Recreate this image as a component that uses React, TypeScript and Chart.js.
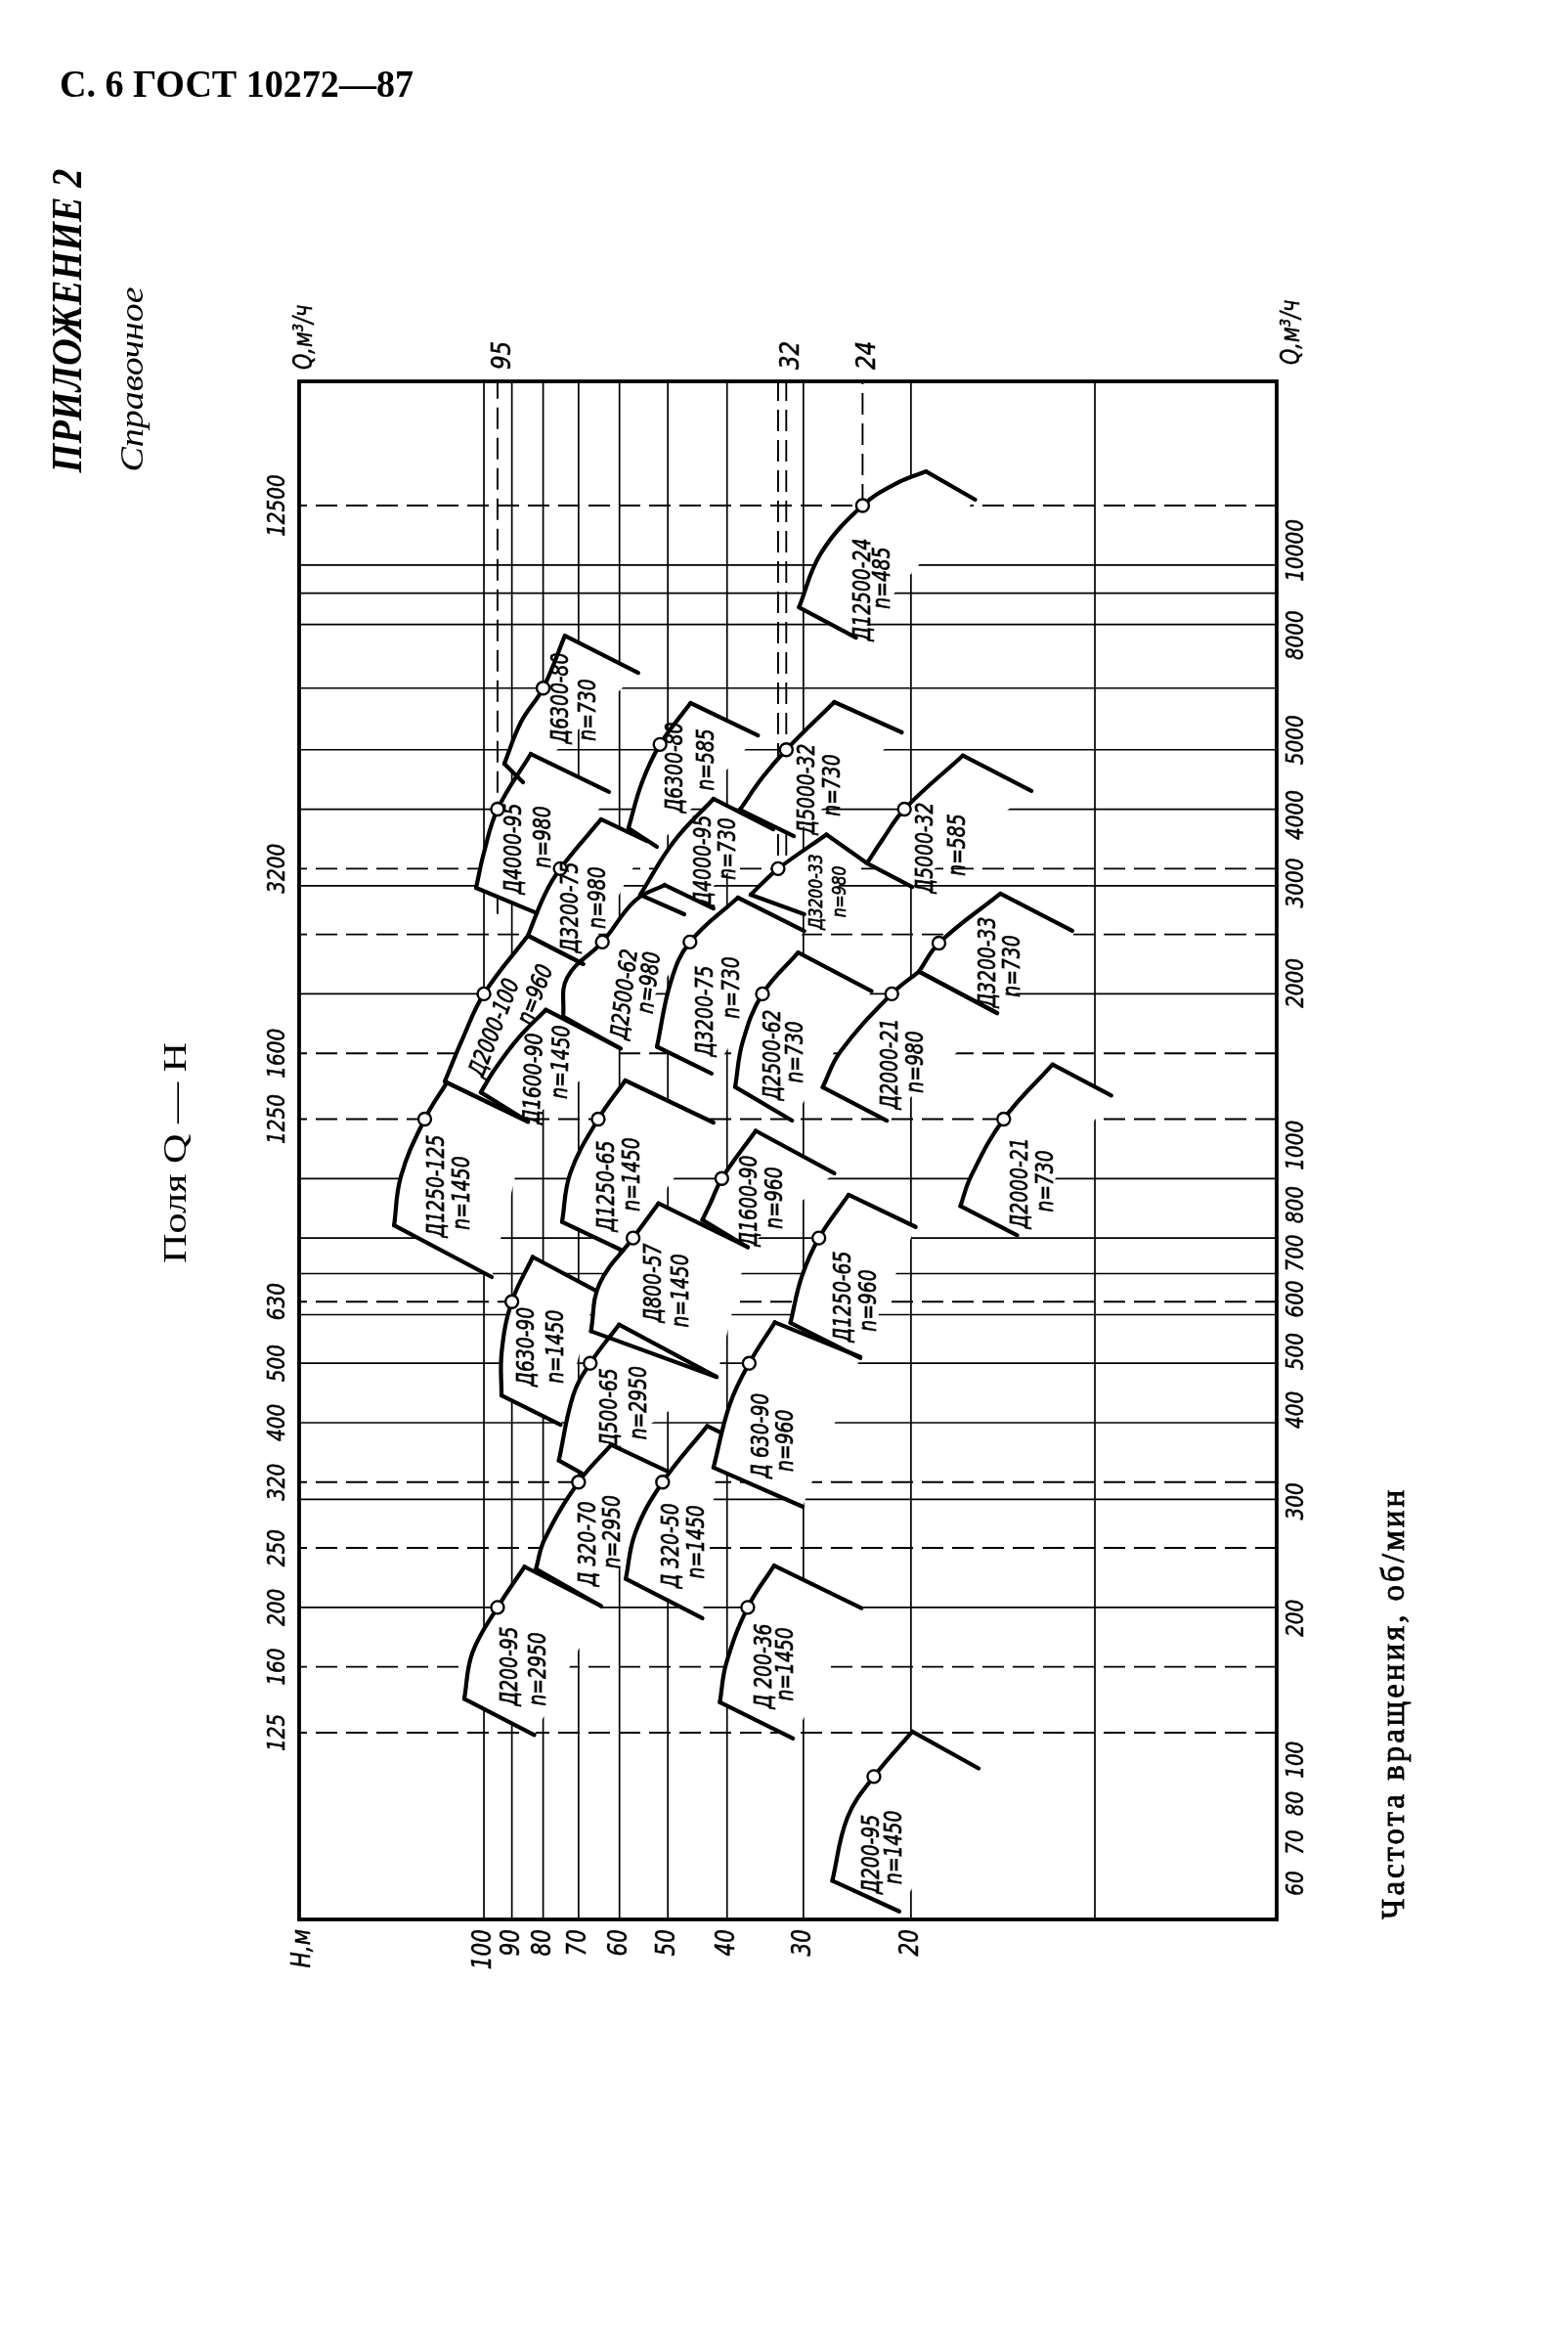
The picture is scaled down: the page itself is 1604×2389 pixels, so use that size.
import React, { useEffect, useRef } from "react";
import { Chart, registerables } from "chart.js";

Chart.register(...registerables);

type P = [number, number]; // [H (m), Q (m3/h)]

// ---------- axes ----------
const H_RANGE: P = [5.04, 200.66];
const Q_RANGE: P = [62.0, 19925];

// ---------- grid ----------
const H_GRID_SOLID = [100, 90, 80, 70, 60, 50, 40, 30, 20, 10];
const H_GRID_DASHED = [95, 33, 32, 24];
const H_GRID_DASHED_END_Q = [2700, 3000, 3000, 12500];
const Q_GRID_SOLID = [10000, 9000, 8000, 6300, 5000, 4000, 3000, 2000, 1000, 800, 700, 600, 500, 400, 300, 200];
const Q_GRID_DASHED = [12500, 3200, 2500, 1600, 1250, 630, 320, 250, 160, 125];

// ---------- tick labels ----------
const Q_LEFT_TICKS = [12500, 3200, 1600, 1250, 630, 500, 400, 320, 250, 200, 160, 125];
const Q_RIGHT_TICKS = [10000, 8000, 5000, 4000, 3000, 2000, 1000, 800, 700, 600, 500, 400, 300, 200, 100, 80, 70, 60];
const H_BOTTOM_TICKS = [100, 90, 80, 70, 60, 50, 40, 30, 20];
const H_TOP_TICKS = [95, 32, 24];
// hand-lettered right scale: label shift (px) from the tick position, as in the drawing
const Q_RIGHT_LABEL_SHIFT = [-15, 11, -10, 6, -3, -11, -34, -34, -21, -16, -12, -13, 2, 11, -33, -49, -46, -46];

// ---------- pump fields ----------
const PUMP_NAMES = [
  "Д12500-24", "Д6300-80", "Д4000-95", "Д6300-80", "Д5000-32", "Д5000-32",
  "Д3200-75", "Д4000-95", "Д3200-33", "Д2000-100", "Д2500-62", "Д1600-90",
  "Д3200-75", "Д2500-62", "Д3200-33", "Д2000-21", "Д2000-21", "Д1250-125",
  "Д1250-65", "Д1600-90", "Д800-57", "Д1250-65", "Д630-90", "Д500-65",
  "Д 630-90", "Д 320-70", "Д 320-50", "Д200-95", "Д 200-36", "Д200-95",
];
const PUMP_SPEEDS = [
  485, 730, 980, 585, 730, 585, 980, 730, 980, 960, 980, 1450, 730, 730, 730,
  980, 730, 1450, 1450, 960, 1450, 960, 1450, 2950, 960, 2950, 1450, 2950, 1450, 1450,
];
const PUMP_NOMINAL: (P | null)[] = [
  [24, 12500], [80, 6300], [95, 4000], [51.5, 5100], [32, 5000], [20.5, 4000],
  [75, 3200], null, [33, 3200], [100, 2000], [64, 2430], null,
  [46, 2430], [35, 2000], [18, 2420], [21.5, 2000], [14.1, 1250], [125, 1250],
  [65, 1250], [40.8, 1000], [57, 800], [28.3, 800], [90, 630], [67, 500],
  [36.8, 500], [70, 320], [51, 320], [95, 200], [37, 200], [23, 106],
];
const FIELD_ARC: P[][] = [
  [[18.9, 14210], [21.1, 13600], [24, 12500], [28.1, 10440], [30.5, 8533]],
  [[73.7, 7671], [80, 6300], [86.9, 5555], [92.6, 4744]],
  [[83.8, 4922], [95, 4000], [100, 3398], [103, 2977]],
  [[45.9, 5957], [51.5, 5100], [55.1, 4425], [58.0, 3725]],
  [[26.7, 5980], [32, 5000], [35.0, 4506], [38.1, 3993]],
  [[16.45, 4892], [20.5, 4000], [22.3, 3560], [23.6, 3266]],
  [[64.3, 3850], [75, 3200], [79.6, 2896], [84.7, 2489]],
  [[42.1, 4158], [48.8, 3550], [55.5, 2901]],
  [[27.5, 3637], [33, 3200], [35.0, 3032], [36.6, 2901]],
  [[84.7, 2489], [100, 2000], [108.3, 1693], [115.9, 1439]],
  [[50.6, 3010], [56.5, 2841], [64, 2430], [73.1, 2125], [74.2, 1837]],
  [[79.2, 1884], [87.9, 1693], [95.8, 1511], [101.2, 1382]],
  [[38.4, 2870], [46, 2430], [49.4, 2099], [52.1, 1640]],
  [[30.6, 2336], [35, 2000], [37.7, 1672], [38.8, 1410]],
  [[14.28, 2914], [18, 2420], [19.4, 2175]],
  [[19.4, 2175], [21.5, 2000], [26.1, 1610], [27.9, 1409]],
  [[11.73, 1534], [14.1, 1250], [15.95, 1009], [16.6, 902]],
  [[115, 1434], [125, 1250], [136.7, 1009], [140.3, 839]],
  [[58.7, 1445], [65, 1250], [72.2, 1021], [74.5, 850]],
  [[35.9, 1196], [40.8, 1000], [42.6, 911], [43.9, 856]],
  [[51.8, 911], [57, 800], [64.7, 673], [66.8, 564]],
  [[25.3, 941], [28.3, 800], [30.2, 691], [31.5, 582]],
  [[83.2, 745], [90, 630], [93.5, 523], [93.6, 443]],
  [[60.1, 578], [67, 500], [71.4, 444], [75.4, 347]],
  [[33.4, 583], [36.8, 500], [39.6, 428], [42.1, 338]],
  [[61.9, 368], [70, 320], [79.6, 258], [82.2, 231]],
  [[43.1, 395], [51, 320], [56.5, 265], [58.6, 222.6]],
  [[85.8, 233], [95, 200], [104.4, 168.8], [107.7, 141.9]],
  [[33.5, 234], [37, 200], [40.1, 162.4], [41.1, 140.1]],
  [[19.9, 125.5], [23, 106], [25.4, 91.0], [26.9, 71.7]],
];
const FIELD_TOP_END: P[] = [
  [15.7, 12780], [55.9, 6675], [62.4, 4267], [35.6, 5276], [20.7, 5336], [12.7, 4285],
  [54.1, 3550], [33.6, 3710], [23.7, 3275], [68.8, 2237], [42.1, 2755], [59.7, 1629],
  [29.9, 2533], [23.2, 2021], [10.89, 2535], [14.45, 1861], [9.4, 1366], [84.7, 1238],
  [42.1, 1234], [26.7, 1020], [37.0, 773], [19.65, 834], [65.5, 656], [41.6, 475],
  [24.2, 512], [50.3, 334], [41.1, 386], [64.3, 201], [24.1, 199.5], [15.5, 109.3],
];
const FIELD_BOTTOM_END: P[] = [
  [24.6, 7616], [86.3, 4425], [81.9, 2707], [52.1, 3473], [31.1, 3616], [19.9, 2988],
  [68.8, 2237], [47.0, 2696], [29.9, 2696], [84.7, 1238], [60.1, 1634], [84.7, 1238],
  [42.4, 1483], [31.3, 1243], [14.45, 1861], [21.9, 1243], [13.4, 808], [97.1, 691],
  [59.3, 763], [37.0, 773], [41.6, 475], [24.2, 510], [74.9, 397], [69.2, 331],
  [30.1, 292], [64.3, 201], [43.9, 192], [82.7, 123.9], [31.2, 122.3], [20.9, 63.9],
];
const LABEL_AT: P[] = [
  [23.9, 9118], [74.5, 6067], [88.9, 3448], [48.4, 4677], [29.5, 4312], [18.85, 3460],
  [71.8, 2766], [43.6, 3299], [28.5, 2934], [95.8, 1758], [58.6, 1996], [82.6, 1455],
  [43.2, 1875], [33.5, 1590], [14.9, 2252], [21.5, 1538], [13.2, 983], [118.9, 972],
  [62.6, 972], [36.6, 920], [52.5, 676], [25.7, 642], [84.7, 532], [61.9, 423],
  [35.0, 381], [67.2, 254], [49.1, 252], [90.2, 160.4], [34.6, 160.4], [23.1, 79.2],
];

// ---------- label layout (px offsets of the speed line, rotation) ----------
const LABEL_N_OFFSET: P[] = [
  [20, -12], [28, 12], [30, -12], [32, -8], [26, -4], [33, -3],
  [28, -10], [25, -12], [24, 0], [42, -34], [25, -12], [28, -17],
  [27, -24], [23, -3], [25, 4], [26, -2], [26, -2], [26, 7],
  [26, -12], [26, -3], [28, 8], [26, 4], [30, 0], [30, -5],
  [25, 5], [25, -12], [26, -4], [29, 3], [22, -2], [23, -7],
];
const LABEL_ANGLE = [
  -90, -90, -90, -90, -90, -90, -90, -90, -90, -69, -83, -88, -90, -90, -90,
  -90, -90, -90, -90, -90, -90, -90, -90, -90, -90, -90, -90, -90, -90, -90,
];

const FIELD_FONT = 'italic 24px "DejaVu Sans"';
const SMALL_FIELD_FONT = 'italic 20px "DejaVu Sans"';
const TICK_FONT = 'italic 25px "DejaVu Sans"';

const toXY = (p: P) => ({ x: p[0], y: p[1] });

function drawText(
  ctx: CanvasRenderingContext2D,
  text: string,
  x: number,
  y: number,
  o: {
    font: string;
    angle?: number;
    align?: CanvasTextAlign;
    baseline?: CanvasTextBaseline;
    sx?: number;
    fit?: number;
    bold?: number;
    spacing?: number;
  }
) {
  ctx.save();
  ctx.font = o.font;
  if (o.spacing) (ctx as any).letterSpacing = o.spacing + "px";
  ctx.translate(x, y);
  ctx.rotate(((o.angle ?? -90) * Math.PI) / 180);
  let s = o.sx ?? 1;
  if (o.fit) s = o.fit / ctx.measureText(text).width;
  ctx.scale(s, 1);
  ctx.textAlign = o.align ?? "center";
  ctx.textBaseline = o.baseline ?? "middle";
  ctx.fillStyle = "#000";
  ctx.fillText(text, 0, 0);
  if (o.bold) {
    ctx.strokeStyle = "#000";
    ctx.lineWidth = o.bold;
    ctx.strokeText(text, 0, 0);
  }
  ctx.restore();
}

const textPlugin = {
  id: "pageText",
  afterDatasetsDraw(chart: any) {
    const ctx: CanvasRenderingContext2D = chart.ctx;
    const xs = chart.scales.x;
    const ys = chart.scales.y;
    const a = chart.chartArea;

    // frame
    ctx.save();
    ctx.strokeStyle = "#000";
    ctx.lineWidth = 3.8;
    ctx.strokeRect(a.left, a.top, a.right - a.left, a.bottom - a.top);
    ctx.restore();

    // field labels
    PUMP_NAMES.forEach((name, i) => {
      const px = xs.getPixelForValue(LABEL_AT[i][0]);
      const py = ys.getPixelForValue(LABEL_AT[i][1]);
      const font = i === 8 ? SMALL_FIELD_FONT : FIELD_FONT;
      drawText(ctx, name, px, py, { font, angle: LABEL_ANGLE[i], sx: 0.78, bold: 0.7 });
      drawText(ctx, "n=" + PUMP_SPEEDS[i], px + LABEL_N_OFFSET[i][0], py + LABEL_N_OFFSET[i][1], {
        font,
        angle: LABEL_ANGLE[i],
        sx: 0.78,
        bold: 0.7,
      });
    });

    // left Q ticks
    Q_LEFT_TICKS.forEach((q) => {
      drawText(ctx, String(q), a.left - 22, ys.getPixelForValue(q), { font: TICK_FONT, sx: 0.8, bold: 0.5 });
    });
    // right Q ticks
    Q_RIGHT_TICKS.forEach((q, i) => {
      drawText(ctx, String(q), a.right + 20, ys.getPixelForValue(q) + Q_RIGHT_LABEL_SHIFT[i], {
        font: TICK_FONT,
        sx: 0.8,
        bold: 0.5,
      });
    });
    // bottom H ticks
    H_BOTTOM_TICKS.forEach((h) => {
      drawText(ctx, String(h), xs.getPixelForValue(h), a.bottom + 10, {
        font: 'italic 27px "DejaVu Sans"',
        align: "right",
        sx: 0.8,
        bold: 0.5,
      });
    });
    // top H ticks
    H_TOP_TICKS.forEach((h) => {
      drawText(ctx, String(h), xs.getPixelForValue(h) + 6, a.top - 12, {
        font: 'italic 27px "DejaVu Sans"',
        align: "left",
        sx: 0.85,
        bold: 0.5,
      });
    });
    // axis names
    drawText(ctx, "H,м", a.left + 4, a.bottom + 10, { font: 'italic 27px "DejaVu Sans"', align: "right", sx: 0.8, bold: 0.5 });
    drawText(ctx, "Q,м³/ч", a.left + 6, a.top - 12, { font: 'italic 26px "DejaVu Sans"', align: "left", sx: 0.8, bold: 0.5 });
    drawText(ctx, "Q,м³/ч", a.right + 16, a.top - 17, { font: 'italic 26px "DejaVu Sans"', align: "left", sx: 0.8, bold: 0.5 });
  },
  afterDraw(chart: any) {
    const ctx: CanvasRenderingContext2D = chart.ctx;
    drawText(ctx, "С. 6 ГОСТ 10272—87", 61, 99, {
      font: 'bold 40px "Liberation Serif"',
      angle: 0,
      align: "left",
      baseline: "alphabetic",
      fit: 362,
    });
    drawText(ctx, "ПРИЛОЖЕНИЕ 2", 72, 328, { font: 'bold italic 44px "Liberation Serif"', fit: 311 });
    drawText(ctx, "Справочное", 137, 388, { font: 'italic 33px "Liberation Serif"', fit: 189 });
    drawText(ctx, "Поля Q — H", 181, 1179, { font: '34px "Liberation Serif"', fit: 226 });
    drawText(ctx, "Частота вращения, об/мин", 1427, 1742, {
      font: '33px "Liberation Serif"',
      fit: 442,
      spacing: 3,
      bold: 0.8,
    });
  },
};

export default function App() {
  const ref = useRef<HTMLCanvasElement | null>(null);

  useEffect(() => {
    if (!ref.current) return;
    const datasets: any[] = [];
    const gridStyle = (dashed: boolean) => ({
      borderColor: "#000",
      borderWidth: dashed ? 1.9 : 1.7,
      borderDash: dashed ? [22, 9] : [],
      pointRadius: 0,
      fill: false,
      tension: 0,
      order: 100,
    });
    H_GRID_SOLID.forEach((h) =>
      datasets.push({ data: [toXY([h, Q_RANGE[0]]), toXY([h, Q_RANGE[1]])], ...gridStyle(false) })
    );
    H_GRID_DASHED.forEach((h, i) =>
      datasets.push({ data: [toXY([h, H_GRID_DASHED_END_Q[i]]), toXY([h, Q_RANGE[1]])], ...gridStyle(true) })
    );
    Q_GRID_SOLID.forEach((q) =>
      datasets.push({ data: [toXY([H_RANGE[0], q]), toXY([H_RANGE[1], q])], ...gridStyle(false) })
    );
    Q_GRID_DASHED.forEach((q) =>
      datasets.push({ data: [toXY([H_RANGE[0], q]), toXY([H_RANGE[1], q])], ...gridStyle(true) })
    );

    const lineStyle = {
      borderColor: "#000",
      borderWidth: 4.2,
      pointRadius: 0,
      fill: false,
      order: 10,
      borderCapStyle: "round",
      borderJoinStyle: "round",
    };
    FIELD_ARC.forEach((arc, i) => {
      const T = arc[0];
      const B = arc[arc.length - 1];
      datasets.push({
        data: [FIELD_TOP_END[i], ...arc, FIELD_BOTTOM_END[i]].map(toXY),
        fill: "shape",
        backgroundColor: "#ffffff",
        borderColor: "rgba(0,0,0,0)",
        borderWidth: 0,
        pointRadius: 0,
        tension: 0,
        order: 50,
      });
      datasets.push({ data: arc.map(toXY), tension: 0.4, ...lineStyle });
      datasets.push({ data: [FIELD_TOP_END[i], T].map(toXY), tension: 0, ...lineStyle });
      datasets.push({ data: [B, FIELD_BOTTOM_END[i]].map(toXY), tension: 0, ...lineStyle });
    });
    datasets.push({
      data: PUMP_NOMINAL.filter((p): p is P => p !== null).map(toXY),
      showLine: false,
      pointRadius: 6.5,
      pointBackgroundColor: "#ffffff",
      pointBorderColor: "#000",
      pointBorderWidth: 2.4,
      order: 0,
    });

    const chart = new Chart(ref.current, {
      type: "line",
      data: { datasets },
      options: {
        responsive: false,
        devicePixelRatio: 1,
        animation: false,
        events: [],
        layout: { padding: { left: 306, top: 390, right: 298, bottom: 426 } },
        scales: {
          x: { type: "logarithmic", reverse: true, min: H_RANGE[0], max: H_RANGE[1], bounds: "data", display: false },
          y: { type: "logarithmic", min: Q_RANGE[0], max: Q_RANGE[1], bounds: "data", display: false },
        },
        plugins: { legend: { display: false }, tooltip: { enabled: false } },
      } as any,
      plugins: [textPlugin as any],
    });
    return () => chart.destroy();
  }, []);

  return (
    <div style={{ position: "absolute", left: 0, top: 0, width: 1604, height: 2389, background: "#fff" }}>
      <canvas ref={ref} width={1604} height={2389} style={{ display: "block", width: 1604, height: 2389 }} />
    </div>
  );
}
